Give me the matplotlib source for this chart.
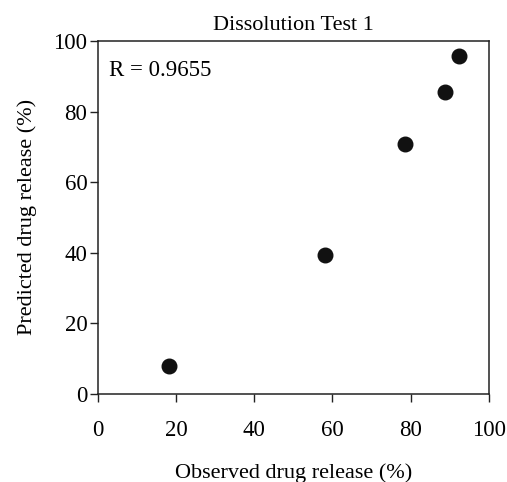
import matplotlib
matplotlib.use("Agg")
import matplotlib.pyplot as plt

observed = [18.2, 58.0, 78.5, 88.9, 92.3]
predicted = [7.9, 39.4, 70.8, 85.5, 95.7]
ticks = [0, 20, 40, 60, 80, 100]
title = "Dissolution Test 1"
xlabel = "Observed drug release (%)"
ylabel = "Predicted drug release (%)"
r_text = "R = 0.9655"

plt.rcParams['font.family'] = ['Liberation Serif', 'DejaVu Serif']

fig = plt.figure(figsize=(5.07, 4.82), dpi=100)
ax = fig.add_axes([0.193, 0.183, 0.771, 0.732])
ax.scatter(observed, predicted, s=110, color='#111111', zorder=3, clip_on=False)
ax.set_xlim(0, 100)
ax.set_ylim(0, 100)
ax.set_xticks(ticks)
ax.set_yticks(ticks)
ax.tick_params(axis='both', direction='out', length=6, width=1, labelsize=16.5, color='#222222')
ax.tick_params(axis='x', pad=13)
ax.tick_params(axis='y', pad=1.5)
for s in ax.spines.values():
    s.set_linewidth(1.1)
    s.set_color('#222222')
ax.set_title(title, fontsize=16, pad=8)
ax.set_xlabel(xlabel, fontsize=16, labelpad=16)
ax.set_ylabel(ylabel, fontsize=16, labelpad=12)
ax.text(0.028, 0.945, r_text, transform=ax.transAxes, fontsize=16.5, va='top', ha='left')
fig.savefig("out.png", dpi=100)
